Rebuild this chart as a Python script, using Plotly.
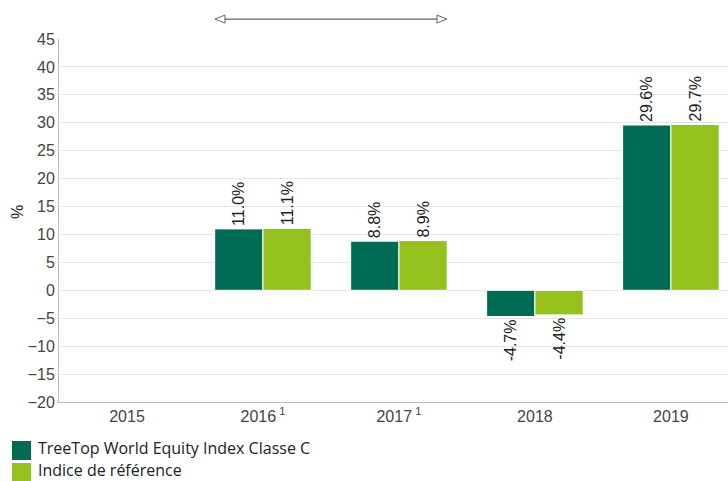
import plotly.graph_objects as go

categories = ["2015", "2016", "2017", "2018", "2019"]
tick_labels = ["2015", "2016<sup> 1</sup>", "2017<sup> 1</sup>", "2018", "2019"]
fund_name = "TreeTop World Equity Index Classe C"
bench_name = "Indice de référence"
fund_values = [None, 11.0, 8.8, -4.7, 29.6]
bench_values = [None, 11.1, 8.9, -4.4, 29.7]
fund_color = "#006B54"
bench_color = "#95C11F"
y_ticks = list(range(-20, 50, 5))
y_title = "%"

FONT = "Liberation Sans, Arial, sans-serif"

fig = go.Figure()
for name, vals, col in [(fund_name, fund_values, fund_color), (bench_name, bench_values, bench_color)]:
    xs = [c for c, v in zip(categories, vals) if v is not None]
    ys = [v for v in vals if v is not None]
    fig.add_trace(go.Bar(
        x=xs, y=ys, name=name,
        marker=dict(color=col, line=dict(color="white", width=1)),
        text=[f"{v:.1f}%" for v in ys], textposition="outside", textangle=-90,
        textfont=dict(family=FONT, size=16, color="#222222"),
        cliponaxis=False, showlegend=False,
    ))

fig.update_layout(
    width=728, height=481,
    margin=dict(l=59, r=0, t=39, b=79),
    plot_bgcolor="white", paper_bgcolor="white",
    barmode="group", bargap=0.29, bargroupgap=0,
    xaxis=dict(
        type="category", categoryorder="array", categoryarray=categories,
        tickvals=categories, ticktext=tick_labels,
        range=[-0.5, 4.42], showline=True, linecolor="#BBBBBB", linewidth=1,
        showgrid=False, ticks="", tickfont=dict(family=FONT, size=16, color="#444444"),
    ),
    yaxis=dict(
        range=[-20, 45], tickvals=y_ticks, showline=True, linecolor="#BBBBBB", linewidth=1,
        gridcolor="#E6E6E6", zeroline=False, ticks="",
        tickfont=dict(family=FONT, size=16, color="#444444"),
    ),
)

# y-axis title as rotated annotation
fig.add_annotation(xref="paper", yref="paper", x=(17 - 59) / 669, y=(402 - 212) / 363,
                   text=y_title, textangle=-90, showarrow=False,
                   xanchor="center", yanchor="middle",
                   font=dict(family=FONT, size=16, color="#222222"))

# double-headed range arrow over 2016-2017
x0, x1 = 0.647, 2.353
ya = 1.055
fig.add_shape(type="line", xref="x", yref="paper", x0=x0 + 0.06, x1=x1 - 0.06, y0=ya, y1=ya,
              line=dict(color="#666666", width=1.2))
for xs, d in [(x0, 1), (x1, -1)]:
    fig.add_shape(type="path", xref="x", yref="paper", xsizemode="pixel", ysizemode="pixel",
                  xanchor=xs, yanchor=ya,
                  path=f"M 0 0 L {10 * d} 4 L {10 * d} -4 Z",
                  fillcolor="white", line=dict(color="#666666", width=1))

# legend (manual)
for i, (name, col) in enumerate([(fund_name, fund_color), (bench_name, bench_color)]):
    ytop = 441 + i * 22
    fig.add_shape(type="rect", xref="paper", yref="paper",
                  x0=(12 - 59) / 669, x1=(31 - 59) / 669,
                  y0=(402 - ytop) / 363, y1=(402 - ytop - 19) / 363,
                  fillcolor=col, line=dict(width=0))
    fig.add_annotation(xref="paper", yref="paper", x=(37 - 59) / 669, y=(402 - ytop - 7.5 + i) / 363,
                       text=name, showarrow=False, xanchor="left", yanchor="middle", borderpad=0,
                       font=dict(family="Open Sans", size=16, color="#222222"))

fig.write_html("out.html")
